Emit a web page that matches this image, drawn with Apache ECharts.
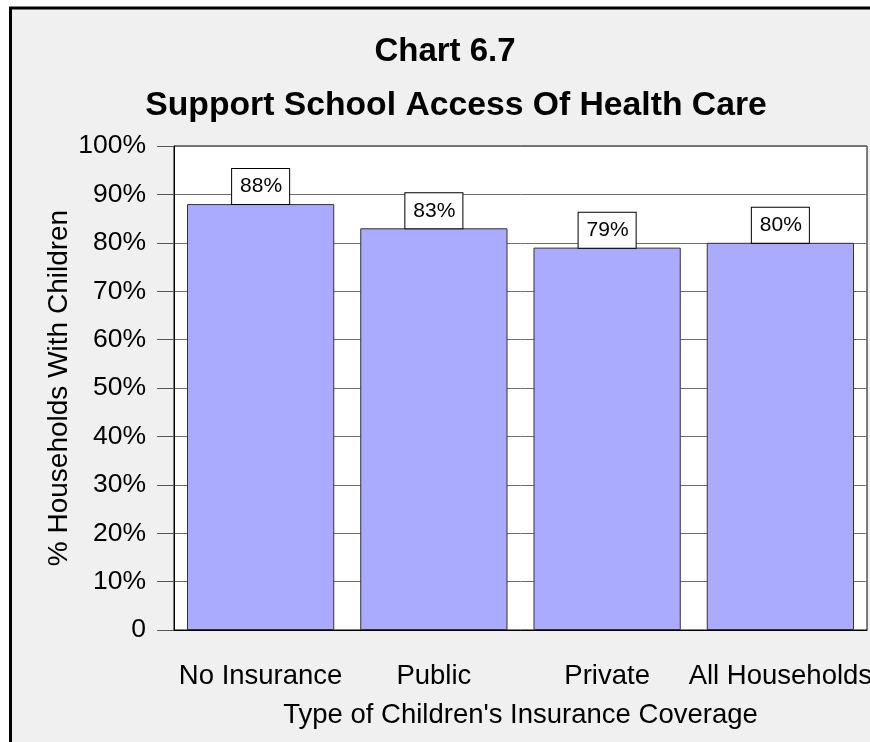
<!DOCTYPE html>
<html>
<head>
<meta charset="utf-8">
<script src="https://cdn.jsdelivr.net/npm/echarts@6/dist/echarts.min.js"></script>
<style>
  html, body { margin: 0; padding: 0; background: #ffffff; }
  #chart { width: 870px; height: 742px; }
</style>
</head>
<body>
<div id="chart"></div>
<script>
// Coverage categories and the share of households that support school access
const categories = ['No Insurance', 'Public', 'Private', 'All Households'];
const supportPct = [88, 83, 79, 80];
const yTicks = [0, 10, 20, 30, 40, 50, 60, 70, 80, 90, 100];

const chart = echarts.init(document.getElementById('chart'));
const font = 'Arial, "Liberation Sans", sans-serif';

chart.setOption({
  backgroundColor: '#ffffff',
  animation: false,
  graphic: [
    // grey panel behind the whole chart
    { type: 'rect', z: -10, shape: { x: 11, y: 9, width: 870, height: 742 }, style: { fill: '#f0f0f0' } },
    // heavy frame along the top and left edges
    { type: 'line', z: 5, shape: { x1: 9, y1: 8, x2: 870, y2: 8 }, style: { stroke: '#000', lineWidth: 3 } },
    { type: 'line', z: 5, shape: { x1: 10.5, y1: 8, x2: 10.5, y2: 742 }, style: { stroke: '#000', lineWidth: 3 } }
  ],
  title: [
    {
      text: 'Chart 6.7', left: 440, top: 30, textAlign: 'center',
      textStyle: { fontFamily: font, fontWeight: 'bold', fontSize: 33, color: '#000' }
    },
    {
      text: 'Support School Access Of Health Care', left: 451, top: 84, textAlign: 'center',
      textStyle: { fontFamily: font, fontWeight: 'bold', fontSize: 33.7, color: '#000' }
    }
  ],
  grid: {
    left: 174, right: 3, top: 146, bottom: 112,
    outerBoundsMode: 'none',
    containLabel: false,
    show: true, backgroundColor: '#ffffff', borderColor: '#000', borderWidth: 1
  },
  xAxis: {
    type: 'category',
    data: categories,
    name: "Type of Children's Insurance Coverage",
    nameLocation: 'middle',
    nameGap: 71,
    nameMoveOverlap: false,
    nameTextStyle: { fontFamily: font, fontSize: 27.5, color: '#000' },
    axisLine: { lineStyle: { color: '#000', width: 1 } },
    axisTick: { alignWithLabel: true, length: 17, lineStyle: { color: '#555' } },
    axisLabel: { fontFamily: font, fontSize: 27.5, color: '#000', margin: 32, interval: 0, hideOverlap: false }
  },
  yAxis: {
    type: 'value',
    min: yTicks[0], max: yTicks[yTicks.length - 1], interval: 10,
    name: '% Households With Children',
    nameLocation: 'middle',
    nameGap: 101,
    nameMoveOverlap: false,
    nameTextStyle: { fontFamily: font, fontSize: 28, color: '#000' },
    axisLine: { show: true, lineStyle: { color: '#000' } },
    axisTick: { show: true, length: 17, lineStyle: { color: '#555' } },
    axisLabel: {
      fontFamily: font, fontSize: 26.5, color: '#000', margin: 28,
      formatter: v => (v === 0 ? '0' : v + '%')
    },
    splitLine: { show: true, lineStyle: { color: '#6e6e6e', width: 1 } }
  },
  series: [{
    type: 'bar',
    data: supportPct,
    barCategoryGap: '15%',
    itemStyle: { color: '#aaaaff', borderColor: '#333', borderWidth: 1 },
    label: {
      show: true,
      position: 'top',
      distance: 0,
      formatter: p => p.value + '%',
      fontFamily: font, fontSize: 21, color: '#000',
      backgroundColor: '#ffffff',
      borderColor: '#000', borderWidth: 1,
      padding: [7, 7, 7, 8]
    }
  }]
});
</script>
</body>
</html>
